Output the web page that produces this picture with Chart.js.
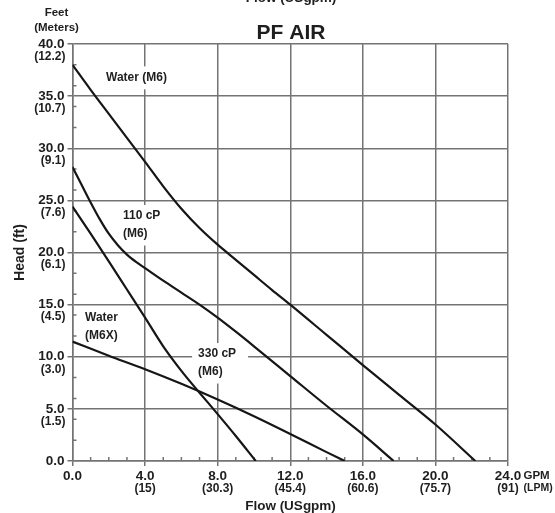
<!DOCTYPE html>
<html><head><meta charset="utf-8">
<script src="https://cdn.jsdelivr.net/npm/chart.js@4"></script>
<style>html,body{margin:0;padding:0;background:#fff}#wrap{width:555px;height:513px;position:relative}</style>
</head><body><div id="wrap"><canvas id="c" width="555" height="513"></canvas></div>
<script>
// ---- tick labels ----
const xTickValues = [0, 4, 8, 12, 16, 20, 24];
const xTickGpm = ["0.0", "4.0", "8.0", "12.0", "16.0", "20.0", "24.0"];
const xTickLpm = ["", "(15)", "(30.3)", "(45.4)", "(60.6)", "(75.7)", "(91)"];
const yTickValues = [0, 5, 10, 15, 20, 25, 30, 35, 40];
const yTickFeet = ["0.0", "5.0", "10.0", "15.0", "20.0", "25.0", "30.0", "35.0", "40.0"];
const yTickMeters = ["", "(1.5)", "(3.0)", "(4.5)", "(6.1)", "(7.6)", "(9.1)", "(10.7)", "(12.2)"];

// ---- series (flow USgpm, head ft) ----
const waterM6Flow = [0, 1, 2, 3, 4, 5, 6, 7, 8, 9, 10, 11, 12, 14, 16, 18, 20, 22.2];
const waterM6Head = [38, 35.6, 33.3, 31.0, 28.7, 26.35, 24.2, 22.35, 20.75, 19.3, 17.85, 16.4, 15.0, 12.1, 9.2, 6.35, 3.5, 0];
const cp110Flow = [0, 0.5, 1, 1.5, 2, 2.5, 3, 3.5, 4, 5, 6, 7, 8, 9, 10, 12, 14, 16, 17.7];
const cp110Head = [28.2, 26.5, 24.8, 23.2, 21.8, 20.7, 19.8, 19.1, 18.5, 17.3, 16.15, 15.0, 13.75, 12.4, 11.0, 8.15, 5.3, 2.55, 0];
const cp330Flow = [0, 1, 2, 3, 4, 5, 6, 7, 8, 9, 10.1];
const cp330Head = [24.4, 21.8, 19.15, 16.45, 13.75, 11.0, 8.65, 6.55, 4.5, 2.4, 0];
const waterM6XFlow = [0, 2, 4, 6, 8, 10, 12, 14, 15];
const waterM6XHead = [11.45, 10.1, 8.8, 7.4, 5.9, 4.3, 2.6, 0.85, 0];

// ---- curve labels (anchored in data units: flow, head of first line) ----
const curveLabelText = [["Water (M6)"], ["110 cP", "(M6)"], ["Water", "(M6X)"], ["330 cP", "(M6)"]];
const curveLabelFlow = [1.85, 2.78, 0.69, 6.92];
const curveLabelHead = [36.8, 23.5, 13.7, 10.26];

const FONT = "'Liberation Sans', Arial, Helvetica, sans-serif";
const TXT = '#1e1e1e';
const GRID = '#747474';
const LINE = '#161616';

function pts(xs, ys) { return xs.map((x, i) => ({ x: x, y: ys[i] })); }
function ds(xs, ys) {
  return { data: pts(xs, ys), borderColor: LINE, borderWidth: 2.2, pointRadius: 0,
           fill: false, cubicInterpolationMode: 'monotone' };
}

const overlay = {
  id: 'overlay',
  beforeDatasetsDraw(chart) {
    const ctx = chart.ctx, xs = chart.scales.x, ys = chart.scales.y;
    ctx.save();
    // minor ticks
    ctx.strokeStyle = GRID; ctx.lineWidth = 1.5;
    const x0 = xs.getPixelForValue(0), y0 = ys.getPixelForValue(0);
    ctx.beginPath();
    for (let v = 1; v < 24; v++) {
      if (v % 4 === 0) continue;
      const px = xs.getPixelForValue(v);
      ctx.moveTo(px, y0); ctx.lineTo(px, y0 - 4);
    }
    for (let v = 2; v < 40; v += 2) {
      if (v % 5 === 0) continue;
      const py = ys.getPixelForValue(v);
      ctx.moveTo(x0, py); ctx.lineTo(x0 + 4, py);
    }
    ctx.stroke();
    // curve labels with white boxes
    ctx.font = 'bold 12px ' + FONT;
    ctx.textBaseline = 'middle'; ctx.textAlign = 'left';
    curveLabelText.forEach((lines, i) => {
      const lx = xs.getPixelForValue(curveLabelFlow[i]);
      const ly = ys.getPixelForValue(curveLabelHead[i]);
      let w = 0; lines.forEach(t => { w = Math.max(w, ctx.measureText(t).width); });
      const lh = 17.5;
      ctx.fillStyle = '#fff';
      ctx.fillRect(lx - 6, ly - 11, w + 18, (lines.length - 1) * lh + 23);
      ctx.fillStyle = TXT;
      lines.forEach((t, k) => ctx.fillText(t, lx, ly + k * lh));
    });
    ctx.restore();
  },
  afterDraw(chart) {
    const ctx = chart.ctx, xs = chart.scales.x, ys = chart.scales.y;
    ctx.save();
    ctx.fillStyle = TXT;
    // secondary (metric) tick lines, placed at the scales' tick pixels
    ctx.font = 'bold 12px ' + FONT;
    ctx.textBaseline = 'middle';
    ctx.textAlign = 'right';
    yTickValues.forEach((v, i) => {
      if (yTickMeters[i]) ctx.fillText(yTickMeters[i], 65.5, ys.getPixelForValue(v) + 12.5);
    });
    ctx.textAlign = 'center';
    xTickValues.forEach((v, i) => {
      if (xTickLpm[i]) ctx.fillText(xTickLpm[i], xs.getPixelForValue(v), 488.5);
    });
    // top partly cut title
    ctx.font = 'bold 13.5px ' + FONT;
    ctx.textBaseline = 'alphabetic';
    ctx.fillText('Flow (USgpm)', 291, 1.5);
    // main title
    ctx.font = 'bold 21px ' + FONT;
    ctx.textBaseline = 'middle';
    ctx.fillText('PF AIR', 291, 33);
    // y unit header
    ctx.font = 'bold 11.5px ' + FONT;
    ctx.fillText('Feet', 56.5, 12.5);
    ctx.fillText('(Meters)', 56.5, 28.3);
    // x axis title
    ctx.font = 'bold 13.5px ' + FONT;
    ctx.fillText('Flow (USgpm)', 290.5, 506);
    // unit suffix at last x tick
    ctx.textAlign = 'left';
    ctx.font = 'bold 11.5px ' + FONT;
    ctx.fillText('GPM', xs.getPixelForValue(24) + 15.5, 476);
    ctx.font = 'bold 10.5px ' + FONT;
    ctx.fillText('(LPM)', xs.getPixelForValue(24) + 15.5, 488.5);
    // y axis title
    ctx.font = 'bold 14px ' + FONT;
    ctx.translate(20, 252.5);
    ctx.rotate(-Math.PI / 2);
    ctx.textAlign = 'center';
    ctx.fillText('Head (ft)', 0, 0);
    ctx.restore();
  }
};

new Chart(document.getElementById('c'), {
  type: 'line',
  data: { datasets: [ds(waterM6Flow, waterM6Head), ds(cp110Flow, cp110Head), ds(cp330Flow, cp330Head), ds(waterM6XFlow, waterM6XHead)] },
  options: {
    responsive: false, animation: false, events: [],
    layout: { padding: { top: 44, right: 47, left: 0, bottom: 0 } },
    plugins: { legend: { display: false }, tooltip: { enabled: false }, title: { display: false } },
    scales: {
      x: {
        type: 'linear', min: 0, max: 24,
        afterFit(s) { s.height = 52; },
        afterBuildTicks(s) { s.ticks = xTickValues.map(v => ({ value: v })); },
        grid: { color: GRID, lineWidth: 1.5, tickLength: 5, tickColor: GRID },
        border: { display: true, color: GRID, width: 1.5 },
        ticks: {
          padding: 4, color: TXT, maxRotation: 0, autoSkip: false,
          font: { family: FONT, size: 13.5, weight: 'bold', lineHeight: '12px' },
          callback(v) { const i = xTickValues.indexOf(v); return i < 0 ? '' : xTickGpm[i]; }
        }
      },
      y: {
        type: 'linear', min: 0, max: 40,
        afterFit(s) { s.width = 72.5; },
        afterBuildTicks(s) { s.ticks = yTickValues.map(v => ({ value: v })); },
        grid: { color: GRID, lineWidth: 1.5, tickLength: 5, tickColor: GRID },
        border: { display: true, color: GRID, width: 1.5 },
        ticks: {
          padding: 3, color: TXT, autoSkip: false,
          font: { family: FONT, size: 13.5, weight: 'bold', lineHeight: '13px' },
          callback(v) { const i = yTickValues.indexOf(v); return i < 0 ? '' : yTickFeet[i]; }
        }
      }
    }
  },
  plugins: [overlay]
});
</script>
</body></html>
